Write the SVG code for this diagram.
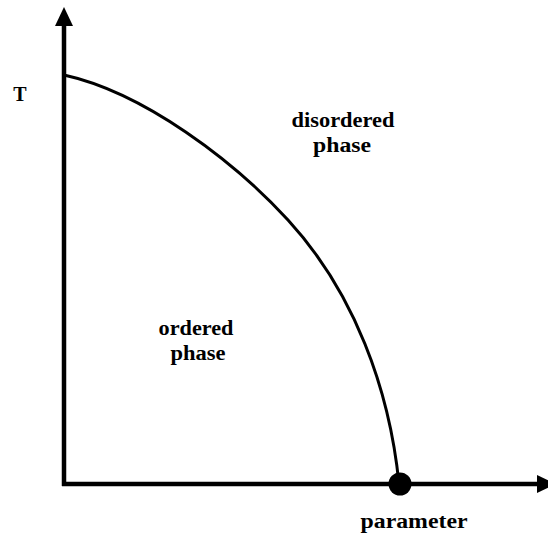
<svg xmlns="http://www.w3.org/2000/svg" width="548" height="536" viewBox="0 0 548 536">
<style>
.axis{stroke:#000;stroke-width:4.5;fill:none}
.curve{stroke:#000;stroke-width:3;fill:none}
.lbl{font-family:"Liberation Serif","DejaVu Serif",serif;font-weight:bold;font-size:20px;fill:#000;text-anchor:middle}
</style>
<defs>
<marker id="arrow" markerUnits="userSpaceOnUse" markerWidth="20" markerHeight="20" viewBox="0 0 20 18" refX="2" refY="9" orient="auto">
<polygon points="0,0 19,9 0,18" fill="#000"/>
</marker>
</defs>
<g id="connectors">
<line class="axis" x1="64" y1="486" x2="64" y2="24" marker-end="url(#arrow)"/>
<line class="axis" x1="62" y1="484" x2="539" y2="484" marker-end="url(#arrow)"/>
<path id="phase-boundary" class="curve" d="M64,75 C144,92.6 233.9,161 288,220 C354.2,292.2 389.5,389 399,484"/>
</g>
<g id="critical-point"><circle cx="400" cy="484" r="11.5" fill="#000"/></g>
<g id="label-T"><text class="lbl" x="20" y="101">T</text></g>
<g id="label-disordered"><text class="lbl" x="343" y="127" textLength="103" lengthAdjust="spacingAndGlyphs">disordered</text><text class="lbl" x="342" y="152" textLength="58" lengthAdjust="spacingAndGlyphs">phase</text></g>
<g id="label-ordered"><text class="lbl" x="196" y="335" textLength="75" lengthAdjust="spacingAndGlyphs">ordered</text><text class="lbl" x="198" y="360" textLength="55" lengthAdjust="spacingAndGlyphs">phase</text></g>
<g id="label-parameter"><text class="lbl" x="414" y="528" textLength="107" lengthAdjust="spacingAndGlyphs">parameter</text></g>
</svg>
